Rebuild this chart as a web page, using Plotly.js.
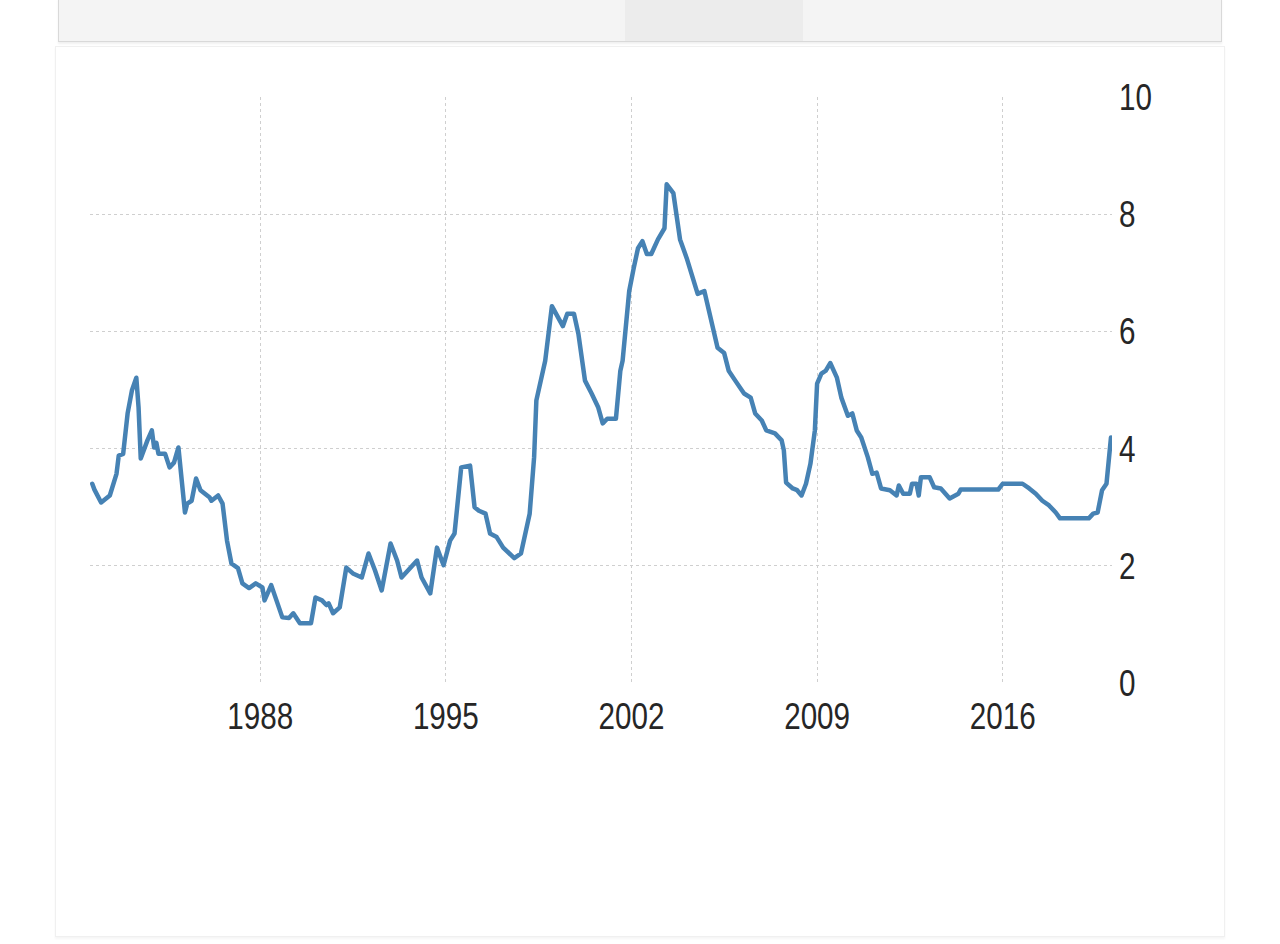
<!DOCTYPE html>
<html>
<head>
<meta charset="utf-8">
<script src="https://cdn.plot.ly/plotly-3.0.1.min.js"></script>
<style>
  html, body { margin: 0; padding: 0; background: #ffffff; width: 1280px; height: 944px; overflow: hidden; }
  #topbar { position: absolute; left: 58px; top: -2px; width: 1162px; height: 43px; background: #f4f4f4;
            border: 1px solid #d9d9d9; border-top: none; box-shadow: 0 2px 2px rgba(0,0,0,0.06); }
  #topbar .seg { position: absolute; left: 566px; top: 0; width: 178px; height: 43px; background: #ececec; }
  #panel { position: absolute; left: 55px; top: 46px; width: 1168px; height: 889px; background: #ffffff;
           border: 1px solid #f0f0f0; box-shadow: 0 2px 2px rgba(0,0,0,0.04); }
  #chart { position: absolute; left: 0; top: 0; width: 1280px; height: 944px; }
</style>
</head>
<body>
<div id="topbar"><div class="seg"></div></div>
<div id="panel"></div>
<div id="chart"></div>
<script>
const dates = [
  "1981-09","1981-10","1982-01","1982-05","1982-08","1982-09","1982-11","1983-01","1983-03","1983-05",
  "1983-06","1983-07","1983-10","1983-12","1984-01","1984-02","1984-03","1984-06","1984-08","1984-10",
  "1984-12","1985-01","1985-03","1985-04","1985-06","1985-08","1985-10","1986-02","1986-03","1986-06",
  "1986-08","1986-10","1986-12","1987-03","1987-05","1987-08","1987-11","1988-02","1988-03","1988-06",
  "1988-08","1988-11","1989-02","1989-04","1989-07","1989-12","1990-02","1990-05","1990-07","1990-08",
  "1990-10","1991-01","1991-04","1991-07","1991-11","1992-02","1992-05","1992-08","1992-12","1993-03",
  "1993-05","1993-08","1993-12","1994-02","1994-06","1994-09","1994-12","1995-03","1995-05","1995-08",
  "1995-12","1996-02","1996-04","1996-07","1996-09","1996-12","1997-03","1997-08","1997-11","1998-03",
  "1998-05","1998-06","1998-09","1998-10","1999-01","1999-03","1999-06","1999-08","1999-11","2000-01",
  "2000-04","2000-07","2000-10","2000-12","2001-02","2001-06","2001-08","2001-09","2001-12","2002-02",
  "2002-04","2002-06","2002-08","2002-10","2003-01","2003-04","2003-05","2003-08","2003-11","2004-02",
  "2004-04","2004-07","2004-10","2005-01","2005-04","2005-07","2005-09","2005-12","2006-04","2006-07",
  "2006-09","2006-12","2007-02","2007-06","2007-09","2007-10","2007-11","2008-02","2008-04","2008-06",
  "2008-08","2008-10","2008-12","2009-01","2009-03","2009-05","2009-07","2009-10","2009-12","2010-03",
  "2010-05","2010-07","2010-09","2010-12","2011-02","2011-04","2011-06","2011-10","2012-01","2012-02",
  "2012-04","2012-07","2012-08","2012-10","2012-11","2012-12","2013-04","2013-06","2013-09","2014-01",
  "2014-03","2014-05","2014-06","2015-11","2016-01","2016-10","2017-01","2017-04","2017-07","2017-10",
  "2018-01","2018-03","2019-04","2019-06","2019-08","2019-10","2019-12","2020-02"
];
const values = [
  3.40,3.30,3.08,3.20,3.57,3.88,3.91,4.60,4.99,5.21,
  4.70,3.83,4.14,4.31,4.02,4.10,3.91,3.91,3.68,3.76,
  4.02,3.68,2.91,3.06,3.11,3.49,3.29,3.17,3.11,3.20,
  3.06,2.43,2.04,1.96,1.70,1.62,1.70,1.63,1.41,1.67,
  1.46,1.12,1.11,1.19,1.02,1.02,1.46,1.41,1.33,1.36,
  1.19,1.29,1.97,1.87,1.80,2.21,1.92,1.58,2.38,2.09,
  1.80,1.92,2.09,1.80,1.53,2.31,2.01,2.43,2.55,3.68,
  3.71,3.00,2.94,2.89,2.55,2.49,2.31,2.13,2.21,2.89,
  3.85,4.82,5.38,5.50,6.43,6.30,6.09,6.30,6.30,5.96,
  5.16,4.94,4.70,4.43,4.51,4.51,5.33,5.50,6.69,7.08,
  7.42,7.54,7.32,7.32,7.57,7.76,8.51,8.36,7.57,7.25,
  7.03,6.64,6.69,6.18,5.72,5.63,5.33,5.16,4.94,4.87,
  4.60,4.48,4.31,4.26,4.14,3.97,3.42,3.32,3.29,3.20,
  3.40,3.74,4.31,5.11,5.28,5.33,5.46,5.21,4.87,4.56,
  4.60,4.31,4.19,3.85,3.57,3.59,3.32,3.29,3.20,3.37,
  3.23,3.23,3.40,3.40,3.20,3.51,3.51,3.34,3.32,3.15,
  3.20,3.23,3.30,3.30,3.40,3.40,3.32,3.23,3.11,3.03,
  2.91,2.81,2.81,2.89,2.91,3.29,3.40,4.19
];
const xTickYears = ["1988-01-01","1995-01-01","2002-01-01","2009-01-01","2016-01-01"];
const xTickLabels = ["1988","1995","2002","2009","2016"];
const yTicks = [0,2,4,6,8,10];

const tickFont = {family: "'Liberation Sans', Arial, sans-serif", size: 37, color: "#262626"};

function condense() {
  document.querySelectorAll("#chart .xtick text, #chart .ytick text").forEach(function (t) {
    const w = t.getComputedTextLength();
    t.setAttribute("lengthAdjust", "spacingAndGlyphs");
    t.setAttribute("textLength", (w * 0.8).toFixed(1));
  });
  document.querySelectorAll("#chart .scatterlayer path.js-line").forEach(function (p) {
    p.style.strokeLinejoin = "round";
    p.style.strokeLinecap = "round";
  });
}

Plotly.newPlot("chart", [{
  x: dates,
  y: values,
  type: "scatter",
  mode: "lines",
  line: {color: "#4682b4", width: 4.5, shape: "linear"},
  hoverinfo: "skip"
}], {
  width: 1280, height: 944,
  margin: {l: 90, r: 168, t: 97, b: 261, pad: 0},
  paper_bgcolor: "rgba(0,0,0,0)",
  plot_bgcolor: "rgba(0,0,0,0)",
  showlegend: false,
  xaxis: {
    type: "date",
    range: ["1981-08-01", "2020-02-15"],
    tickmode: "array",
    tickvals: xTickYears,
    ticktext: xTickLabels,
    showgrid: true,
    gridcolor: "#cfcfcf",
    griddash: "dot",
    gridwidth: 1,
    zeroline: false,
    showline: false,
    ticks: "",
    tickfont: tickFont,
    ticklabelstandoff: 8
  },
  yaxis: {
    range: [0, 10],
    side: "right",
    tickmode: "array",
    tickvals: yTicks,
    ticktext: yTicks.map(String),
    showgrid: true,
    gridcolor: "#cfcfcf",
    griddash: "dot",
    gridwidth: 1,
    zeroline: false,
    showline: false,
    ticks: "",
    tickfont: tickFont,
    ticklabelstandoff: 6
  }
}, {displayModeBar: false, staticPlot: true}).then(condense);
</script>
</body>
</html>
